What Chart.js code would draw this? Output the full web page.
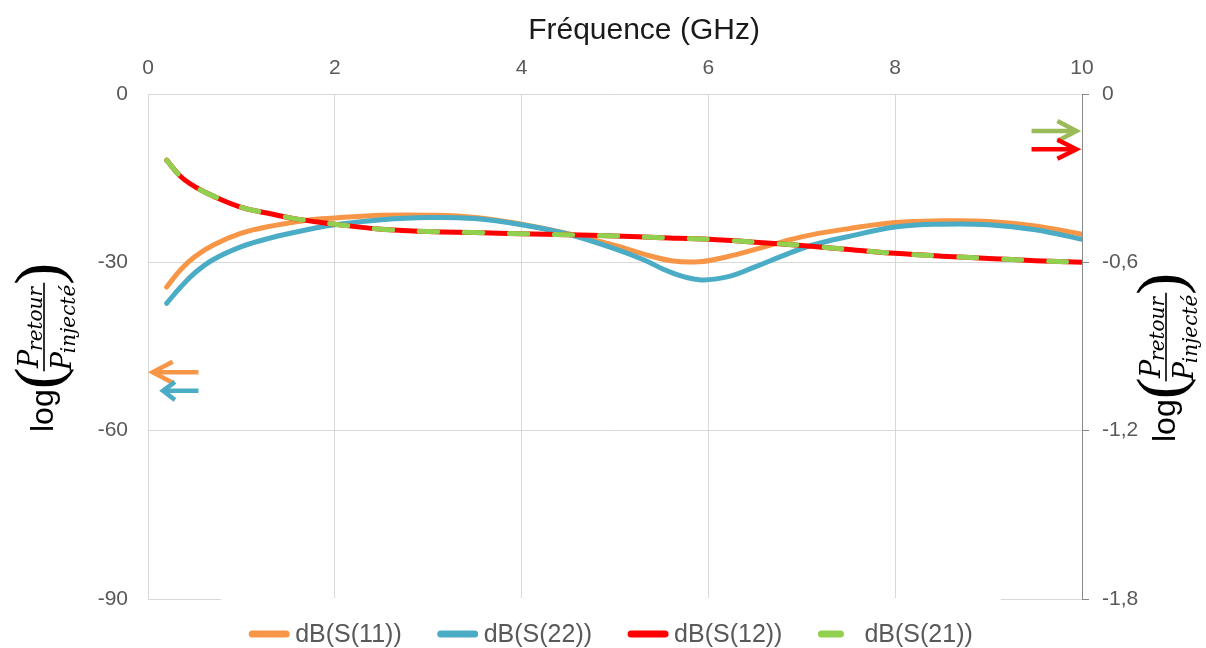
<!DOCTYPE html>
<html>
<head>
<meta charset="utf-8">
<script src="https://cdn.jsdelivr.net/npm/chart.js@4.4.0/dist/chart.umd.min.js"></script>
<style>
  html, body { margin: 0; padding: 0; background: #fff; }
</style>
</head>
<body>
<canvas id="chart" width="1206" height="648"></canvas>
<script>
// Réflexion (axe gauche, dB)
const freqRefl = [0.2, 0.35, 0.5, 0.7, 1.0, 1.3, 1.7, 2.0, 2.5, 3.0, 3.5, 4.0, 4.5,
                  5.0, 5.3, 5.6, 5.9, 6.2, 6.5, 6.8, 7.1, 7.5, 8.0, 8.5, 9.0, 9.5, 10];
const dbS11 = [-34.4, -31.3, -29.0, -26.9, -24.8, -23.6, -22.5, -22.1, -21.6, -21.6, -22.0, -23.2, -24.9,
               -27.0, -28.5, -29.7, -29.9, -29.0, -27.7, -26.3, -25.1, -24.0, -22.9, -22.6, -22.7, -23.5, -25.0];
const dbS22 = [-37.3, -34.4, -31.9, -29.5, -27.2, -25.7, -24.2, -23.3, -22.4, -22.0, -22.2, -23.3, -25.0,
               -27.6, -29.5, -31.8, -33.1, -32.6, -30.8, -28.8, -27.0, -25.4, -23.7, -23.2, -23.3, -24.2, -25.9];

// Transmission (axe droit)
const freqTrans = [0.2, 0.35, 0.5, 0.7, 1.0, 1.3, 1.6, 2.0, 2.5, 3.0, 3.5, 4.0, 4.5,
                   5.0, 5.5, 6.0, 6.5, 7.0, 7.5, 8.0, 8.5, 9.0, 9.5, 10];
const dbS12 = [-0.236, -0.294, -0.330, -0.364, -0.404, -0.426, -0.446, -0.464, -0.482, -0.490, -0.494, -0.498,
               -0.502, -0.506, -0.512, -0.518, -0.528, -0.540, -0.554, -0.568, -0.578, -0.586, -0.594, -0.600];
const dbS21 = [-0.236, -0.294, -0.330, -0.364, -0.404, -0.426, -0.446, -0.464, -0.482, -0.490, -0.494, -0.498,
               -0.502, -0.506, -0.512, -0.518, -0.528, -0.540, -0.554, -0.568, -0.578, -0.586, -0.594, -0.600];

const seriesNames = ['dB(S(11))', 'dB(S(22))', 'dB(S(12))', 'dB(S(21))'];

const FONT = "'Liberation Sans', Arial, sans-serif";
const MATH = "'DejaVu Serif', serif";

function pts(xs, ys) {
  return xs.map((x, i) => ({ x: x, y: ys[i] }));
}

function arrow(ctx, xTail, xTip, y, headLen, headHalf, color) {
  ctx.save();
  ctx.strokeStyle = color;
  ctx.lineWidth = 4.5;
  ctx.lineCap = 'butt';
  ctx.lineJoin = 'miter';
  ctx.beginPath();
  ctx.moveTo(xTail, y);
  ctx.lineTo(xTip, y);
  ctx.stroke();
  const dir = xTip > xTail ? -1 : 1;
  ctx.beginPath();
  ctx.moveTo(xTip + dir * headLen, y - headHalf);
  ctx.lineTo(xTip, y);
  ctx.lineTo(xTip + dir * headLen, y + headHalf);
  ctx.stroke();
  ctx.restore();
}

// log( P_retour / P_injecté ), written bottom-to-top
function logTitle(ctx, barX, startY) {
  ctx.save();
  ctx.translate(barX, startY);
  ctx.rotate(-Math.PI / 2);
  ctx.fillStyle = '#000';
  ctx.textAlign = 'left';
  ctx.textBaseline = 'alphabetic';

  ctx.font = '32px ' + FONT;
  ctx.fillText('log', 0, 9);
  let u = ctx.measureText('log').width;

  ctx.font = "66px 'Liberation Serif', serif";
  ctx.fillText('(', u, 16);
  u += ctx.measureText('(').width - 4;

  const bigP = 'italic 27px ' + MATH;
  const sub = 'italic 20px ' + MATH;
  ctx.font = bigP;
  const pW = ctx.measureText('P').width;
  ctx.font = sub;
  const numW = pW + ctx.measureText('retour').width;
  const denW = pW + ctx.measureText('injecté').width;
  const fracW = Math.max(numW, denW) + 2;

  let n = u + (fracW - numW) / 2;
  ctx.font = bigP;
  ctx.fillText('P', n, -6);
  ctx.font = sub;
  ctx.fillText('retour', n + pW - 1, -2);

  let d = u + (fracW - denW) / 2;
  ctx.font = bigP;
  ctx.fillText('P', d, 27);
  ctx.font = sub;
  ctx.fillText('injecté', d + pW - 1, 31);

  ctx.fillRect(u, -0.8, fracW, 1.6);
  u += fracW;

  ctx.font = "66px 'Liberation Serif', serif";
  ctx.fillText(')', u - 2, 16);
  ctx.restore();
}

const decor = {
  id: 'decor',
  afterDraw(chart) {
    const { ctx, chartArea: a, scales } = chart;
    const sx = scales.x, sy = scales.y, sy1 = scales.y1;

    // axis title on top
    ctx.save();
    ctx.fillStyle = '#1a1a1a';
    ctx.font = '30px ' + FONT;
    ctx.textAlign = 'center';
    ctx.textBaseline = 'alphabetic';
    ctx.fillText('Fréquence (GHz)', 644, 39);
    ctx.restore();

    logTitle(ctx, 44, 432);
    logTitle(ctx, 1166, 442);

    // arrows telling which axis each pair belongs to
    arrow(ctx, sx.getPixelForValue(0.54), sx.getPixelForValue(0.05), sy.getPixelForValue(-49.6), 20, 10.5, '#f79646');
    arrow(ctx, sx.getPixelForValue(0.54), sx.getPixelForValue(0.16), sy.getPixelForValue(-52.9), 12, 9, '#4bacc6');
    arrow(ctx, sx.getPixelForValue(9.46), sx.getPixelForValue(9.94), sy1.getPixelForValue(-0.132), 19, 10, '#9bbb59');
    arrow(ctx, sx.getPixelForValue(9.46), sx.getPixelForValue(9.94), sy1.getPixelForValue(-0.197), 19, 9.5, '#ff0000');

    // legend
    const sampleW = 40, sampleGap = 6, itemGap = 36, pad = 28;
    ctx.save();
    ctx.font = '25px ' + FONT;
    const widths = seriesNames.map(s => ctx.measureText(s).width);
    const total = widths.reduce((s, w) => s + w + sampleW + sampleGap, 0) + itemGap * (seriesNames.length - 1);
    let x = (a.left + a.right) / 2 - 4 - total / 2;
    const cy = 634;
    ctx.fillStyle = '#fff';
    ctx.fillRect(x - pad, a.bottom - 1, total + 2 * pad, chart.height - a.bottom + 1);
    chart.data.datasets.forEach((ds, i) => {
      ctx.save();
      ctx.strokeStyle = ds.borderColor;
      ctx.lineWidth = 7;
      ctx.lineCap = 'round';
      ctx.setLineDash(ds.borderDash ? [19, 40] : []);
      ctx.beginPath();
      ctx.moveTo(x + 3, cy);
      ctx.lineTo(x + sampleW - 3, cy);
      ctx.stroke();
      ctx.restore();
      ctx.fillStyle = '#595959';
      ctx.textAlign = 'left';
      ctx.textBaseline = 'middle';
      ctx.fillText(seriesNames[i], x + sampleW + sampleGap, cy + 1);
      x += sampleW + sampleGap + widths[i] + itemGap;
    });
    ctx.restore();
  }
};

const tickFont = { family: FONT, size: 21 };

new Chart(document.getElementById('chart'), {
  type: 'line',
  data: {
    datasets: [
      { label: seriesNames[0], data: pts(freqRefl, dbS11), yAxisID: 'y', borderColor: '#f79646', order: 4 },
      { label: seriesNames[1], data: pts(freqRefl, dbS22), yAxisID: 'y', borderColor: '#4bacc6', order: 3 },
      { label: seriesNames[2], data: pts(freqTrans, dbS12), yAxisID: 'y1', borderColor: '#ff0000', order: 2 },
      { label: seriesNames[3], data: pts(freqTrans, dbS21), yAxisID: 'y1', borderColor: '#92d050', order: 1,
        borderDash: [18, 27] }
    ]
  },
  options: {
    responsive: false,
    animation: false,
    layout: { padding: { left: 0, right: 0, top: 0, bottom: 49 } },
    elements: {
      point: { radius: 0, hoverRadius: 0 },
      line: { borderWidth: 5, borderCapStyle: 'round', borderJoinStyle: 'round', tension: 0.4, fill: false }
    },
    scales: {
      x: {
        type: 'linear',
        position: 'top',
        min: 0,
        max: 10,
        ticks: { stepSize: 2, font: tickFont, color: '#595959', padding: 13 },
        grid: { color: '#d9d9d9', drawTicks: false },
        border: { color: '#d9d9d9' },
        afterFit(scale) { scale.height = 94; }
      },
      y: {
        position: 'left',
        min: -90,
        max: 0,
        ticks: { stepSize: 30, font: tickFont, color: '#595959', padding: 20 },
        grid: { color: '#d9d9d9', drawTicks: false },
        border: { color: '#d9d9d9' },
        afterFit(scale) { scale.width = 148; }
      },
      y1: {
        position: 'right',
        min: -1.8,
        max: 0,
        ticks: {
          stepSize: 0.6, font: tickFont, color: '#595959', padding: 13,
          callback: v => (v === 0 ? '0' : v.toFixed(1).replace('.', ','))
        },
        grid: { drawOnChartArea: false, color: '#898989', tickLength: 7 },
        border: { color: '#898989' },
        afterFit(scale) { scale.width = 124; }
      }
    },
    plugins: {
      legend: { display: false },
      tooltip: { enabled: false }
    }
  },
  plugins: [decor]
});
</script>
</body>
</html>
